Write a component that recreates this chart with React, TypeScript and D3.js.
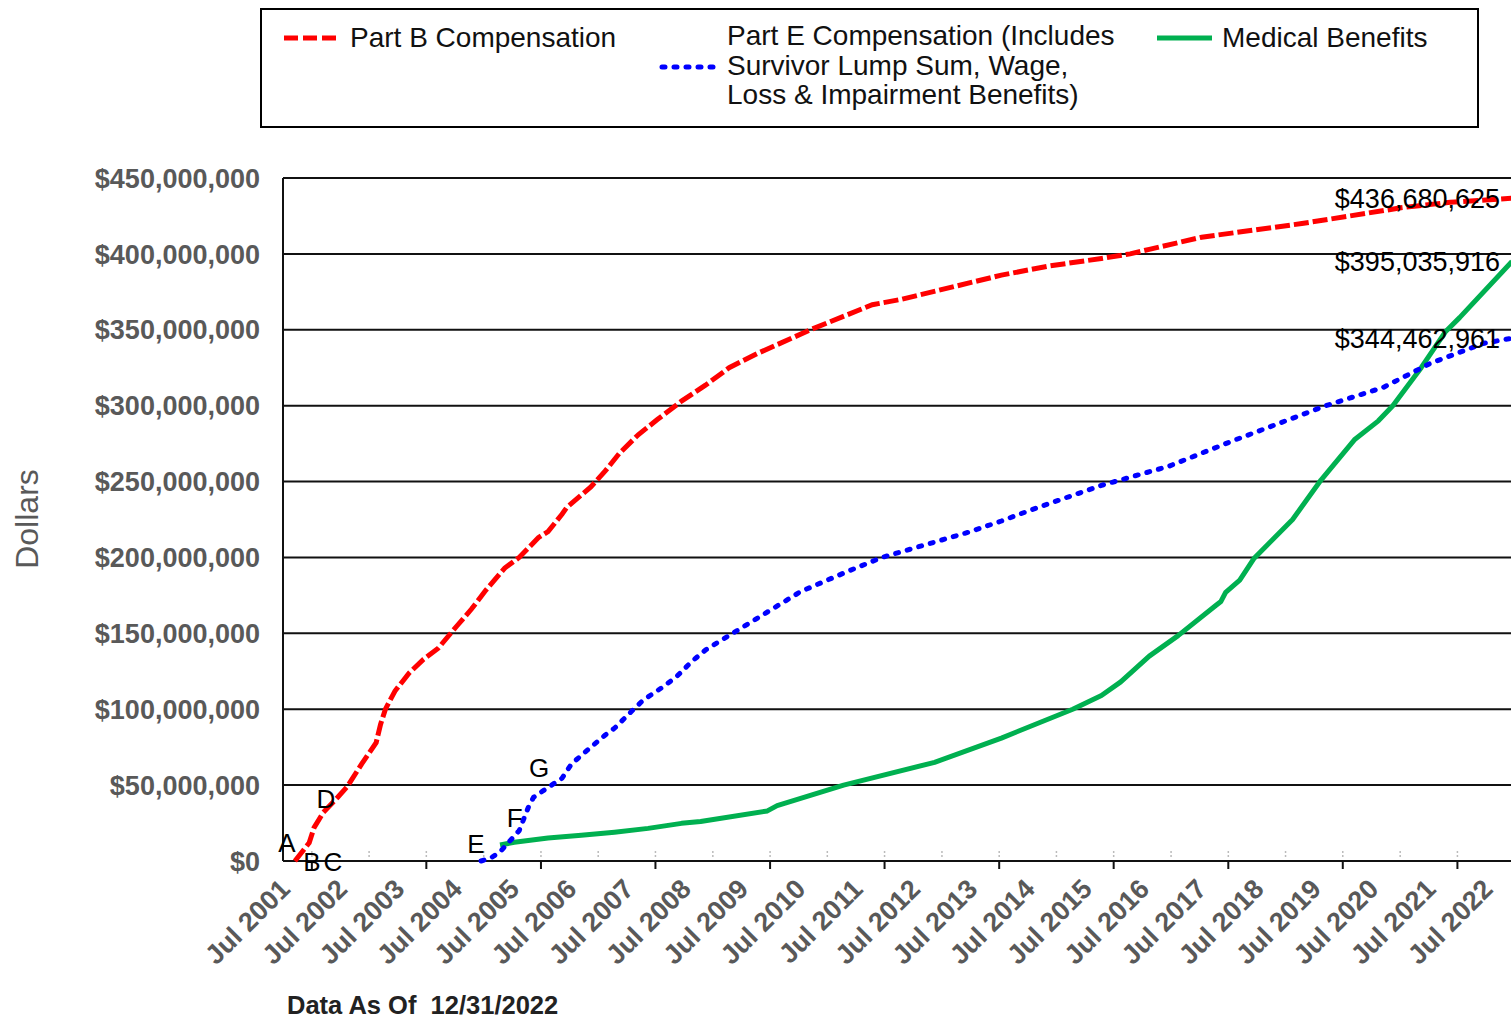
import React from "react";
import * as d3 from "d3";

// ---------- data (values in $ millions, cumulative) ----------
const partBDates = ["2001-09","2001-12","2002-01","2002-03","2002-06","2002-08","2002-11","2003-02","2003-03","2003-04","2003-05","2003-06","2003-09","2003-12","2004-03","2004-07","2004-10","2005-01","2005-05","2005-08","2005-12","2006-02","2006-05","2006-06","2006-11","2007-02","2007-05","2007-09","2008-01","2008-06","2008-11","2009-04","2009-10","2010-09","2011-10","2012-04","2014-01","2014-11","2015-10","2016-04","2016-08","2017-07","2019-04","2021-01","2021-11","2022-12"];
const partBValues = [0,12,22,32,42,49,64,78,90,100,106,112,124,133,140,155,166,178.5,193,200,213,217,228.5,233,246.5,257,268.5,281,291,303,313.5,325,334.5,350,366.5,370,386,392,397,400,403,411,420,430.5,434,436.680625];

const partEDates = ["2004-12","2005-02","2005-04","2005-08","2005-10","2005-11","2006-02","2006-05","2006-07","2006-11","2007-02","2007-04","2007-08","2007-10","2008-02","2008-05","2008-08","2008-11","2009-05","2010-07","2011-05","2011-12","2013-06","2014-01","2014-07","2015-10","2016-12","2018-02","2019-09","2020-09","2021-07","2022-06","2022-12"];
const partEValues = [0,2,6,20,36,42,48.5,54.5,64,75,83,87.5,100,106,114.5,121.5,131,139,150.5,177.5,191,200,216.5,224,231,247.5,260,277.5,300,312,328,341,344.462961];

const medicalDates = ["2005-04","2005-07","2006-02","2006-09","2007-04","2007-11","2008-06","2008-10","2009-12","2010-02","2011-04","2012-11","2014-01","2015-04","2015-10","2016-02","2016-08","2017-02","2017-10","2017-11","2017-12","2018-03","2018-06","2019-02","2019-08","2020-03","2020-08","2020-11","2021-05","2021-10","2022-01","2022-12"];
const medicalValues = [10.5,12.3,15.1,17,19,21.5,24.8,26,33,36.5,50,65,81,100,109,118,135,148.5,168.5,171,177,185,199.5,225,251,277.5,290,300,325,348.5,358,395.035916];

const yTicks = [0, 50, 100, 150, 200, 250, 300, 350, 400, 450];
const labelYears = d3.range(2001, 2023);
const minorTickYears = d3.range(2002, 2023);
const majorTickYears = d3.range(2002, 2023, 2);

const annotations = [
  { text: "A", date: "2001-07-26", value: 6 },
  { text: "B", date: "2002-01-02", value: -6.6 },
  { text: "C", date: "2002-05-15", value: -6.6 },
  { text: "D", date: "2002-04-01", value: 35 },
  { text: "E", date: "2004-11-13", value: 5.3 },
  { text: "F", date: "2005-07-18", value: 22.4 },
  { text: "G", date: "2005-12-20", value: 55.3 },
];

const legendPartE = ["Part E Compensation (Includes", "Survivor Lump Sum, Wage,", "Loss & Impairment Benefits)"];

// ---------- layout ----------
const W = 1511;
const H = 1021;
const plotLeft = 283;
const plotTop = 178;
const plotBottom = 861;
const plotRight = 1514.5;

const FONT = "'Liberation Sans', Arial, Helvetica, sans-serif";
const GRAY = "#595959";

const parseMonth = d3.timeParse("%Y-%m");
const parseDay = d3.timeParse("%Y-%m-%d");
const mid = (s: string) => d3.timeDay.offset(parseMonth(s) as Date, 14);

type Pt = { date: Date; value: number };
const mk = (dates: string[], values: number[]): Pt[] =>
  dates.map((d, i) => ({ date: mid(d), value: values[i] }));

const seriesB = mk(partBDates, partBValues);
const seriesE = mk(partEDates, partEValues);
const seriesM = mk(medicalDates, medicalValues);

export default function App() {
  const x = d3
    .scaleTime()
    .domain([new Date(2001, 6, 1), new Date(2022, 11, 31)])
    .range([plotLeft, plotRight]);
  const y = d3.scaleLinear().domain([0, 450]).range([plotBottom, plotTop]);

  const line = d3
    .line<Pt>()
    .x((d) => x(d.date))
    .y((d) => y(d.value));

  const fmtTick = (v: number) => d3.format("$,")(v * 1e6);
  const fmtEnd = (v: number) => d3.format("$,.0f")(v * 1e6);

  const ends = [seriesB, seriesM, seriesE];

  return (
    <svg
      width={W}
      height={H}
      style={{ position: "absolute", left: 0, top: 0, background: "#fff" }}
      fontFamily={FONT}
    >
      <defs>
        <clipPath id="plotClip">
          <rect x={plotLeft} y={plotTop - 10} width={W - plotLeft} height={plotBottom - plotTop + 20} />
        </clipPath>
      </defs>

      {/* Legend */}
      <rect x={261} y={9} width={1217} height={118} fill="#fff" stroke="#000" strokeWidth={2} />
      <line x1={284} x2={340} y1={38} y2={38} stroke="#FF0000" strokeWidth={5} strokeDasharray="14,5" />
      <text x={350} y={47} fontSize={28} fill="#111">Part B Compensation</text>
      <line x1={662} x2={716} y1={67} y2={67} stroke="#0000FF" strokeWidth={5} strokeDasharray="3,9" strokeLinecap="round" />
      {legendPartE.map((t, i) => (
        <text key={t} x={727} y={45 + i * 29.5} fontSize={28} fill="#111">{t}</text>
      ))}
      <line x1={1157} x2={1212} y1={38} y2={38} stroke="#00B050" strokeWidth={5} />
      <text x={1222} y={47} fontSize={28} fill="#111">Medical Benefits</text>

      {/* Gridlines */}
      {yTicks.map((t) => (
        <line key={t} x1={plotLeft} x2={W} y1={y(t)} y2={y(t)} stroke="#111" strokeWidth={2} />
      ))}

      {/* Y tick labels */}
      {yTicks.map((t) => (
        <text key={t} x={260} y={y(t)} dy="0.36em" textAnchor="end" fontSize={27} fontWeight="bold" fill={GRAY}>
          {fmtTick(t)}
        </text>
      ))}

      {/* Y title */}
      <text transform={`translate(38,519) rotate(-90)`} textAnchor="middle" fontSize={32} fill={GRAY}>
        Dollars
      </text>

      {/* Minor dotted marks */}
      {minorTickYears.map((yr) => (
        <line
          key={yr}
          x1={x(new Date(yr, 0, 1))}
          x2={x(new Date(yr, 0, 1))}
          y1={plotBottom - 10}
          y2={plotBottom - 3}
          stroke="#bbb"
          strokeWidth={1.5}
          strokeDasharray="2,2"
        />
      ))}

      {/* Axes */}
      <line x1={plotLeft} x2={plotLeft} y1={plotTop} y2={plotBottom} stroke="#111" strokeWidth={2} />
      <line x1={plotLeft} x2={W} y1={plotBottom} y2={plotBottom} stroke="#111" strokeWidth={2} />
      {majorTickYears.map((yr) => (
        <line
          key={yr}
          x1={x(new Date(yr, 0, 1))}
          x2={x(new Date(yr, 0, 1))}
          y1={plotBottom}
          y2={plotBottom + 8}
          stroke="#111"
          strokeWidth={2}
        />
      ))}

      {/* X tick labels */}
      {labelYears.map((yr) => {
        const px = x(new Date(yr, 6, 1));
        return (
          <text
            key={yr}
            transform={`translate(${px + 2},884) rotate(-45)`}
            textAnchor="end"
            dy="0.35em"
            fontSize={27}
            fontWeight="bold"
            fill={GRAY}
          >
            {`Jul ${yr}`}
          </text>
        );
      })}

      {/* Series */}
      <g clipPath="url(#plotClip)" fill="none">
        <path d={line(seriesM) || ""} stroke="#00B050" strokeWidth={5} strokeLinejoin="round" />
        <path d={line(seriesE) || ""} stroke="#0000FF" strokeWidth={5} strokeDasharray="3,9" strokeLinecap="round" />
        <path d={line(seriesB) || ""} stroke="#FF0000" strokeWidth={5} strokeDasharray="15,4" />
      </g>

      {/* Annotations */}
      {annotations.map((a) => (
        <text
          key={a.text}
          x={x(parseDay(a.date) as Date)}
          y={y(a.value)}
          textAnchor="middle"
          fontSize={26}
          fill="#000"
        >
          {a.text}
        </text>
      ))}

      {/* End value labels */}
      {ends.map((s, i) => {
        const last = s[s.length - 1];
        return (
          <text key={i} x={1500} y={y(last.value)} dy="0.36em" textAnchor="end" fontSize={27} fill="#000">
            {fmtEnd(last.value)}
          </text>
        );
      })}

      {/* Footer */}
      <text x={287} y={1014} fontSize={25.5} fontWeight="bold" fill="#222" style={{ whiteSpace: "pre" }}>
        {"Data As Of  12/31/2022"}
      </text>
    </svg>
  );
}
